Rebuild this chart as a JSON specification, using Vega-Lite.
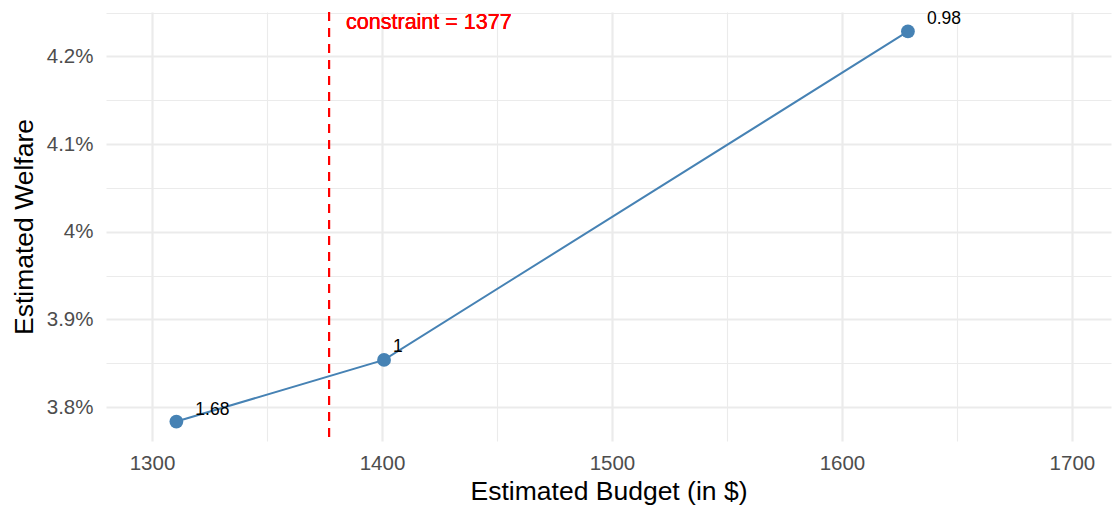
{
  "$schema": "https://vega.github.io/schema/vega-lite/v6.json",
  "width": 1005,
  "height": 429,
  "autosize": {"type": "none"},
  "padding": {"left": 106, "top": 12, "right": 2, "bottom": 67},
  "background": "white",
  "config": {"view": {"stroke": null}, "font": "Liberation Sans"},
  "data": {"values": [
    {"budget": 1310.6, "welfare": 3.7836, "label": "1.68"},
    {"budget": 1400.9, "welfare": 3.8539, "label": "1"},
    {"budget": 1628.7, "welfare": 4.2285, "label": "0.98"}
  ]},
  "resolve": {"axis": {"x": "independent", "y": "independent"}},
  "layer": [
    {
      "mark": {"type": "point", "opacity": 0},
      "encoding": {
        "x": {"field": "budget", "type": "quantitative",
          "scale": {"domain": [1280, 1717], "nice": false, "zero": false},
          "axis": {"orient": "bottom", "values": [1350, 1450, 1550, 1650], "grid": true, "gridColor": "#EBEBEB", "gridWidth": 1.1, "labels": false, "ticks": false, "domain": false, "title": null}},
        "y": {"field": "welfare", "type": "quantitative",
          "scale": {"domain": [3.7614, 4.2507], "nice": false, "zero": false},
          "axis": {"orient": "left", "values": [3.85, 3.95, 4.05, 4.15, 4.25], "grid": true, "gridColor": "#EBEBEB", "gridWidth": 1.1, "labels": false, "ticks": false, "domain": false, "title": null}}
      }
    },
    {
      "mark": {"type": "line", "color": "#4682B4", "strokeWidth": 2},
      "encoding": {
        "x": {"field": "budget", "type": "quantitative",
          "axis": {"orient": "bottom", "values": [1300, 1400, 1500, 1600, 1700], "format": "d", "grid": true, "gridColor": "#EBEBEB", "gridWidth": 2.2, "ticks": false, "domain": false,
            "labelFontSize": 20.5, "labelColor": "#4D4D4D", "labelBaseline": "alphabetic", "labelPadding": 28,
            "title": "Estimated Budget (in $)", "titleFontSize": 26.5, "titleFontWeight": "normal", "titleColor": "#000000", "titleBaseline": "alphabetic", "titleX": 502.5, "titleY": 58}},
        "y": {"field": "welfare", "type": "quantitative",
          "axis": {"orient": "left", "values": [3.8, 3.9, 4.0, 4.1, 4.2], "grid": true, "gridColor": "#EBEBEB", "gridWidth": 2.2, "ticks": false, "domain": false,
            "labelExpr": "format(datum.value, '.1~f') + '%'",
            "labelFontSize": 20.5, "labelColor": "#4D4D4D", "labelPadding": 13,
            "title": "Estimated Welfare", "titleFontSize": 26.5, "titleFontWeight": "normal", "titleColor": "#000000", "titleBaseline": "alphabetic", "titleX": -74, "titleY": 214.5}}
      }
    },
    {
      "mark": {"type": "rule", "color": "#FF0000", "strokeDash": [9, 7], "strokeWidth": 2},
      "encoding": {"x": {"datum": 1377, "type": "quantitative", "axis": null}}
    },
    {
      "mark": {"type": "point", "filled": true, "size": 190, "color": "#4682B4", "opacity": 1},
      "encoding": {
        "x": {"field": "budget", "type": "quantitative", "axis": null},
        "y": {"field": "welfare", "type": "quantitative", "axis": null}
      }
    },
    {
      "transform": [{"filter": "datum.label != '1'"}],
      "mark": {"type": "text", "align": "left", "baseline": "middle", "dx": 19, "dy": -12, "fontSize": 17.5, "color": "#000000"},
      "encoding": {
        "x": {"field": "budget", "type": "quantitative", "axis": null},
        "y": {"field": "welfare", "type": "quantitative", "axis": null},
        "text": {"field": "label"}
      }
    },
    {
      "transform": [{"filter": "datum.label == '1'"}],
      "mark": {"type": "text", "align": "left", "baseline": "middle", "dx": 9, "dy": -13, "fontSize": 17.5, "color": "#000000"},
      "encoding": {
        "x": {"field": "budget", "type": "quantitative", "axis": null},
        "y": {"field": "welfare", "type": "quantitative", "axis": null},
        "text": {"field": "label"}
      }
    },
    {
      "mark": {"type": "text", "align": "left", "baseline": "middle", "dx": 17, "dy": -8, "fontSize": 21.5, "color": "#FF0000", "text": "constraint = 1377"},
      "encoding": {
        "x": {"datum": 1377, "type": "quantitative", "axis": null},
        "y": {"datum": 4.2285, "type": "quantitative", "axis": null}
      }
    }
  ]
}
